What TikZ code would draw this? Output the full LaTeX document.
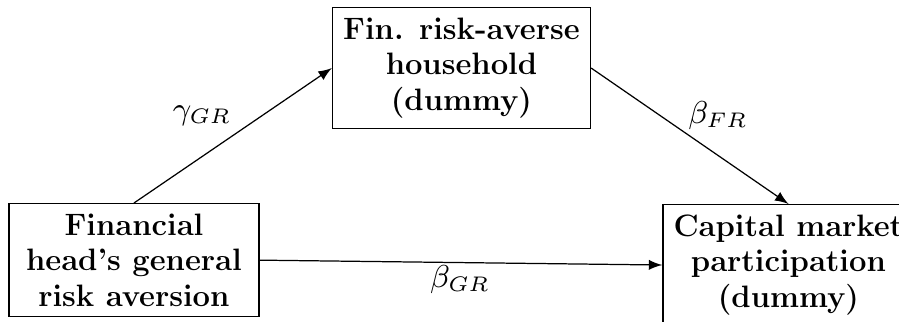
\documentclass[tikz,border=0pt]{standalone}
\usetikzlibrary{arrows}
% bold serif for the variable boxes (12pt design size, set a little smaller)
\font\varbf=cmbx12 at 8.8pt
\newcommand\varboxfont{\varbf\baselineskip=10pt\relax}
\begin{document}
\begin{tikzpicture}[x=0.01cm, y=-0.01cm,
  varbox/.style={draw, line width=0.4pt, align=center, minimum width=2.5cm,
    inner sep=3pt, font=\varboxfont},
  link/.style={-latex, line width=0.35pt},
  coef/.style={font=\fontsize{9}{11}\selectfont, inner sep=0pt}]
\useasboundingbox (0,0) rectangle (899,322);
\path[clip] (0,0) rectangle (899,322);

% the three variables
\node[varbox, anchor=north] (L) at (134,203) {Financial\\head's general\\risk aversion};
\node[varbox, anchor=north] (T) at (461.5,7) {Fin. risk-averse\\household\\(dummy)};
\node[varbox, anchor=north] (R) at (788.5,204) {Capital market\\participation\\(dummy)};

% paths between them
\draw[link] (L.north) -- (T.west);
\draw[link] (T.east) -- (R.north);
\draw[link] (L.east) -- (R.west);

% path coefficients
\node[coef] (gGR) at (202,116) {$\gamma_{GR}$};
\node[coef] (bFR) at (718,116) {$\beta_{FR}$};
\node[coef] (bGR) at (460,280) {$\beta_{GR}$};
\end{tikzpicture}
\end{document}
